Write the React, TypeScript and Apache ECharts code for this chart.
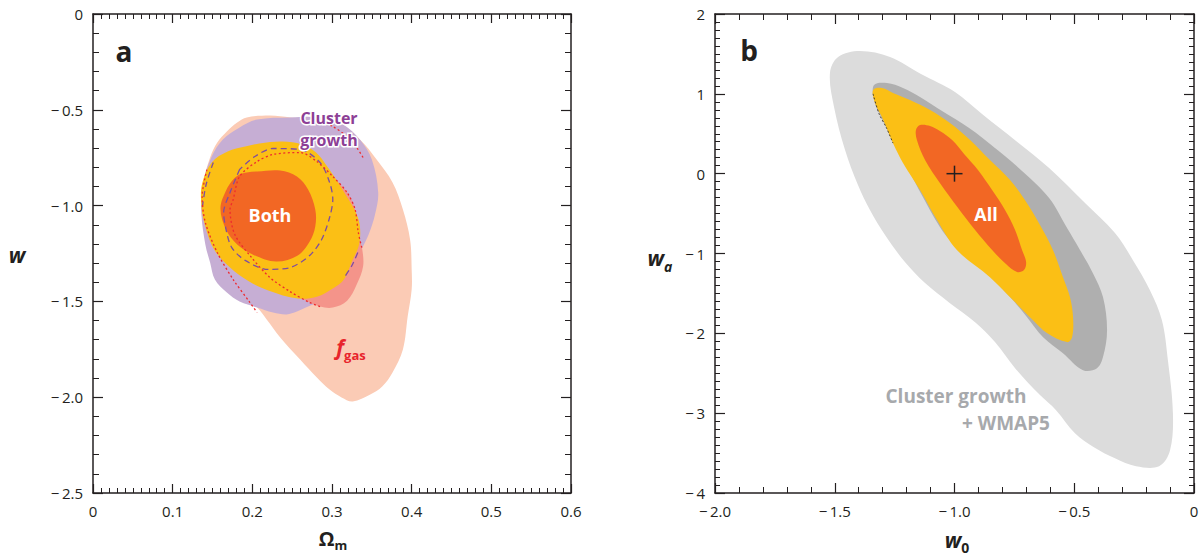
import { useEffect, useRef } from "react";
import * as echarts from "echarts";

const FONT = "'Open Sans', 'Noto Sans', sans-serif";
const INK = "#231F20";

// ---------- Panel a : Ωm (x) vs w (y) ----------
const fgasOuter: number[][] = [
  [0.193, -0.540], [0.222, -0.530], [0.248, -0.540], [0.289, -0.556], [0.314, -0.592],
  [0.335, -0.655], [0.356, -0.759], [0.376, -0.879], [0.389, -1.020], [0.398, -1.177],
  [0.400, -1.333], [0.400, -1.438], [0.395, -1.579], [0.389, -1.751], [0.376, -1.871],
  [0.363, -1.944], [0.348, -1.986], [0.326, -2.022], [0.312, -2.001], [0.297, -1.960],
  [0.281, -1.897], [0.260, -1.803], [0.235, -1.688], [0.218, -1.594], [0.206, -1.532],
  [0.184, -1.464], [0.162, -1.386], [0.147, -1.255], [0.137, -1.072], [0.138, -0.890],
  [0.147, -0.749], [0.156, -0.671], [0.168, -0.613], [0.181, -0.566],
];
const fgasInner: number[][] = [
  [0.226, -0.733], [0.260, -0.723], [0.281, -0.770], [0.301, -0.848], [0.319, -0.932],
  [0.329, -1.020], [0.333, -1.140], [0.338, -1.229], [0.339, -1.318], [0.331, -1.412],
  [0.319, -1.496], [0.301, -1.532], [0.285, -1.527], [0.272, -1.506], [0.247, -1.448],
  [0.222, -1.375], [0.199, -1.271], [0.178, -1.151], [0.172, -1.020], [0.176, -0.968],
  [0.184, -0.848], [0.206, -0.770],
];
const clusterOuter: number[][] = [
  [0.206, -0.551], [0.247, -0.540], [0.289, -0.540], [0.314, -0.577], [0.335, -0.655],
  [0.350, -0.759], [0.358, -0.932], [0.354, -1.047], [0.346, -1.151], [0.337, -1.229],
  [0.316, -1.414], [0.291, -1.490], [0.270, -1.527], [0.256, -1.553], [0.243, -1.568],
  [0.226, -1.558], [0.206, -1.532], [0.184, -1.501], [0.168, -1.454], [0.153, -1.386],
  [0.147, -1.297], [0.141, -1.203], [0.136, -1.036], [0.138, -0.885], [0.149, -0.744],
  [0.163, -0.655], [0.184, -0.592],
];
const bothOuter: number[][] = [
  [0.169, -0.718], [0.191, -0.692], [0.209, -0.676], [0.238, -0.666], [0.262, -0.681],
  [0.280, -0.723], [0.294, -0.796], [0.306, -0.869], [0.320, -0.963], [0.330, -1.036],
  [0.335, -1.109], [0.334, -1.203], [0.325, -1.292], [0.315, -1.386], [0.301, -1.433],
  [0.282, -1.474], [0.257, -1.485], [0.220, -1.443], [0.196, -1.396], [0.172, -1.323],
  [0.152, -1.229], [0.141, -1.109], [0.136, -0.999], [0.137, -0.885], [0.149, -0.775],
];
const bothInner: number[][] = [
  [0.193, -0.827], [0.206, -0.822], [0.235, -0.817], [0.256, -0.848], [0.270, -0.916],
  [0.279, -1.020], [0.279, -1.109], [0.272, -1.187], [0.257, -1.260], [0.230, -1.292],
  [0.201, -1.256], [0.181, -1.203], [0.167, -1.125], [0.160, -1.015], [0.167, -0.921],
  [0.176, -0.864], [0.184, -0.838],
];
const clusterInnerDashed: number[][] = [
  [0.184, -0.812], [0.172, -0.932], [0.164, -1.036], [0.167, -1.125], [0.174, -1.218],
  [0.191, -1.286], [0.220, -1.333], [0.248, -1.323], [0.272, -1.260], [0.287, -1.177],
  [0.297, -1.062], [0.301, -0.968], [0.297, -0.879], [0.285, -0.775], [0.260, -0.707],
  [0.226, -0.702], [0.203, -0.744], [0.184, -0.812],
];
const clusterLeftDashed: number[][] = [[0.151, -0.775], [0.142, -0.890], [0.137, -1.015]];
const clusterRightDashed: number[][] = [[0.317, -1.365], [0.325, -1.313], [0.334, -1.229]];
const fgasTopDotted: number[][] = [
  [0.282, -0.551], [0.301, -0.587], [0.319, -0.640], [0.331, -0.697], [0.339, -0.749],
];
const fgasLeftDotted: number[][] = [
  [0.143, -0.812], [0.137, -0.953], [0.141, -1.088], [0.156, -1.245], [0.176, -1.386],
  [0.197, -1.506], [0.206, -1.558],
];

// ---------- Panel b : w0 (x) vs wa (y) ----------
const growthOuter: number[][] = [
  [-1.520, 1.261], [-1.503, 0.835], [-1.457, 0.296], [-1.403, -0.143], [-1.353, -0.456],
  [-1.290, -0.769], [-1.207, -1.108], [-1.123, -1.371], [-1.019, -1.622], [-0.914, -1.860],
  [-0.831, -2.110], [-0.747, -2.436], [-0.643, -2.774], [-0.576, -2.962], [-0.497, -3.251],
  [-0.418, -3.426], [-0.330, -3.564], [-0.242, -3.664], [-0.146, -3.664], [-0.100, -3.464],
  [-0.088, -3.000], [-0.109, -2.336], [-0.134, -1.835], [-0.184, -1.459], [-0.255, -1.083],
  [-0.330, -0.744], [-0.455, -0.368], [-0.605, 0.070], [-0.743, 0.409], [-0.885, 0.747],
  [-0.998, 1.023], [-1.140, 1.248], [-1.269, 1.461], [-1.395, 1.536], [-1.486, 1.461],
];
const growthInner: number[][] = [
  [-1.336, 1.110], [-1.282, 1.135], [-1.215, 1.073], [-1.144, 0.960], [-1.052, 0.784],
  [-0.939, 0.571], [-0.831, 0.321], [-0.718, 0.033], [-0.605, -0.306], [-0.530, -0.682],
  [-0.476, -0.957], [-0.422, -1.246], [-0.380, -1.546], [-0.363, -1.960], [-0.380, -2.298],
  [-0.405, -2.436], [-0.463, -2.461], [-0.547, -2.248], [-0.630, -2.048], [-0.697, -1.797],
  [-0.768, -1.546], [-0.864, -1.246], [-0.965, -0.957], [-1.019, -0.832], [-1.061, -0.669],
  [-1.132, -0.293], [-1.198, 0.083], [-1.257, 0.421], [-1.311, 0.734], [-1.336, 0.922],
];
const allOuter: number[][] = [
  [-1.340, 1.048], [-1.303, 1.073], [-1.257, 1.010], [-1.186, 0.922], [-1.102, 0.797],
  [-1.019, 0.634], [-0.935, 0.421], [-0.852, 0.170], [-0.768, -0.080], [-0.706, -0.331],
  [-0.643, -0.644], [-0.589, -0.957], [-0.547, -1.296], [-0.518, -1.546], [-0.505, -1.797],
  [-0.509, -2.048], [-0.530, -2.110], [-0.614, -1.997], [-0.672, -1.835], [-0.756, -1.584],
  [-0.852, -1.296], [-0.990, -0.957], [-1.073, -0.581], [-1.144, -0.206], [-1.215, 0.133],
  [-1.257, 0.383], [-1.303, 0.709], [-1.332, 0.885],
];
const allInner: number[][] = [
  [-1.144, 0.609], [-1.102, 0.597], [-1.061, 0.534], [-1.010, 0.421], [-0.960, 0.246],
  [-0.902, 0.045], [-0.843, -0.206], [-0.789, -0.456], [-0.747, -0.707], [-0.718, -0.957],
  [-0.701, -1.108], [-0.710, -1.208], [-0.739, -1.233], [-0.785, -1.133], [-0.843, -0.957],
  [-0.914, -0.707], [-0.985, -0.431], [-1.061, -0.118], [-1.123, 0.170], [-1.157, 0.421],
  [-1.161, 0.546],
];
const edgeDotted: number[][] = [[-1.340, 1.000], [-1.315, 0.750], [-1.285, 0.580], [-1.257, 0.383]];
const fiducial: number[][] = [[-1, 0]];

// tick label formatters (minus sign followed by a thin space, as in the figure)
const MINUS = "\u2212\u2009";
const fmtPos = (v: number) => (Math.abs(v) < 1e-9 ? "0" : v.toFixed(1));
const fmtNeg1 = (v: number) => (Math.abs(v) < 1e-9 ? "0" : MINUS + Math.abs(v).toFixed(1));
const fmtInt = (v: number) => {
  const r = Math.round(v);
  return r === 0 ? "0" : r < 0 ? MINUS + Math.abs(r) : String(r);
};

function mkAxis(grid: number, position: string, min: number, max: number, interval: number,
  minorSplit: number, majorLen: number, minorLen: number, fmt: ((v: number) => string) | null) {
  return {
    type: "value", gridIndex: grid, position, min, max, interval,
    axisLine: { show: true, onZero: false, lineStyle: { color: INK, width: 1.5 } },
    axisTick: { show: true, inside: true, length: majorLen, lineStyle: { color: INK, width: 1.2 } },
    minorTick: { show: true, splitNumber: minorSplit, length: minorLen, lineStyle: { color: INK, width: 1 } },
    splitLine: { show: false }, minorSplitLine: { show: false },
    axisLabel: fmt
      ? { show: true, formatter: fmt, color: INK, fontSize: 15, fontFamily: FONT, margin: 10, showMinLabel: true, showMaxLabel: true }
      : { show: false },
  };
}

function polySeries(pts: number[][], color: string, axis: number, z: number) {
  return {
    type: "custom", coordinateSystem: "cartesian2d", xAxisIndex: axis, yAxisIndex: axis,
    data: pts, encode: { x: 0, y: 1 }, z, silent: true,
    renderItem: (params: any, api: any) =>
      params.dataIndex === 0
        ? { type: "polygon", shape: { points: pts.map((p) => api.coord(p)), smooth: 0.35 }, style: { fill: color } }
        : null,
  };
}

function lineSeries(pts: number[][], color: string, dash: number[], width: number, axis: number) {
  return {
    type: "line", xAxisIndex: axis, yAxisIndex: axis, data: pts, showSymbol: false, symbol: "none",
    smooth: 0.3, z: 10, silent: true,
    lineStyle: { color, width, type: dash },
  };
}

function txt(x: number, y: number, text: string, s: any) {
  return {
    type: "text", x, y, z: 100, silent: true,
    style: { text, fontFamily: FONT, fontSize: 15, fill: INK, align: "center", verticalAlign: "middle", ...s },
  };
}

// main symbol + lowered subscript in one text element
function subTxt(x: number, y: number, main: string, sub: string, mainSize: number, subSize: number,
  shift: number, color: string, mainItalic: boolean, subItalic: boolean) {
  return {
    type: "text", x, y, z: 100, silent: true,
    style: {
      text: "{m|" + main + "}{s|" + sub + "}",
      align: "center", verticalAlign: "middle",
      rich: {
        m: { fontFamily: FONT, fontSize: mainSize, fontWeight: "bold", fontStyle: mainItalic ? "italic" : "normal", fill: color, color, lineHeight: mainSize + 2 },
        s: { fontFamily: FONT, fontSize: subSize, fontWeight: "bold", fontStyle: subItalic ? "italic" : "normal", fill: color, color, padding: [shift * 2, 0, 0, 0], lineHeight: subSize + 2 },
      },
    },
  };
}

export default function App() {
  const ref = useRef<HTMLDivElement>(null);
  useEffect(() => {
    if (!ref.current) return;
    const chart = echarts.init(ref.current, undefined, { renderer: "svg" });
    const fgasDotted = fgasInner.slice(12).concat(fgasInner.slice(0, 8));
    const clusterLabel = { fontSize: 16, fontWeight: "bold", fill: "#8D3F96", stroke: "#fff", lineWidth: 3 };
    const option: any = {
      animation: false,
      textStyle: { fontFamily: FONT },
      grid: [
        { left: 93, top: 14, width: 478, height: 479, outerBoundsMode: "none" },
        { left: 715, top: 14, width: 479, height: 479, outerBoundsMode: "none" },
      ],
      xAxis: [
        mkAxis(0, "bottom", 0, 0.6, 0.1, 10, 9, 5, fmtPos),
        mkAxis(0, "top", 0, 0.6, 0.1, 10, 9, 5, null),
        mkAxis(1, "bottom", -2, 0, 0.5, 5, 10, 6, fmtNeg1),
        mkAxis(1, "top", -2, 0, 0.5, 5, 10, 6, null),
      ],
      yAxis: [
        mkAxis(0, "left", -2.5, 0, 0.5, 5, 10, 6, fmtNeg1),
        mkAxis(0, "right", -2.5, 0, 0.5, 5, 10, 6, null),
        mkAxis(1, "left", -4, 2, 1, 10, 10, 5, fmtInt),
        mkAxis(1, "right", -4, 2, 1, 10, 10, 5, null),
      ],
      series: [
        polySeries(fgasOuter, "#FBCBB5", 0, 1),
        polySeries(clusterOuter, "#C6AED4", 0, 2),
        polySeries(fgasInner, "#F4948A", 0, 3),
        polySeries(bothOuter, "#FBBF15", 0, 4),
        polySeries(bothInner, "#F26724", 0, 5),
        lineSeries(clusterInnerDashed, "#7E4E9F", [6, 4], 1.3, 0),
        lineSeries(clusterLeftDashed, "#7E4E9F", [6, 4], 1.3, 0),
        lineSeries(clusterRightDashed, "#7E4E9F", [6, 4], 1.3, 0),
        lineSeries(fgasDotted, "#EE2A2E", [2, 2.5], 1.3, 0),
        lineSeries(fgasTopDotted, "#EE2A2E", [2, 2.5], 1.3, 0),
        lineSeries(fgasLeftDotted, "#EE2A2E", [2, 2.5], 1.3, 0),

        polySeries(growthOuter, "#DCDCDC", 2, 1),
        polySeries(growthInner, "#AFAFAF", 2, 2),
        polySeries(allOuter, "#FBBF15", 2, 3),
        polySeries(allInner, "#F26724", 2, 4),
        lineSeries(edgeDotted, "#4A4030", [2, 2], 1, 2),
        {
          type: "custom", coordinateSystem: "cartesian2d", xAxisIndex: 2, yAxisIndex: 2,
          data: fiducial, encode: { x: 0, y: 1 }, z: 12, silent: true,
          renderItem: (_p: any, api: any) => {
            const c = api.coord([api.value(0), api.value(1)]);
            return {
              type: "group",
              children: [
                { type: "line", shape: { x1: c[0] - 8, y1: c[1], x2: c[0] + 8, y2: c[1] }, style: { stroke: INK, lineWidth: 1.5 } },
                { type: "line", shape: { x1: c[0], y1: c[1] - 8, x2: c[0], y2: c[1] + 8 }, style: { stroke: INK, lineWidth: 1.5 } },
              ],
            };
          },
        },
      ],
      graphic: [
        txt(124, 51, "a", { fontSize: 28, fontWeight: "bold" }),
        txt(749, 50, "b", { fontSize: 28, fontWeight: "bold" }),
        txt(329, 118, "Cluster", clusterLabel),
        txt(329, 140, "growth", clusterLabel),
        txt(270, 215, "Both", { fontSize: 18, fontWeight: "bold", fill: "#fff" }),
        subTxt(351, 347, "f", "gas", 21, 13, 8, "#E8242C", true, false),
        txt(986, 214, "All", { fontSize: 18, fontWeight: "bold", fill: "#fff" }),
        txt(956, 396, "Cluster growth", { fontSize: 19, fontWeight: "bold", fill: "#A7A9AC" }),
        txt(1006, 423, "+ WMAP5", { fontSize: 19, fontWeight: "bold", fill: "#A7A9AC" }),
        // axis names
        txt(17, 255, "w", { fontSize: 21, fontWeight: "bold", fontStyle: "italic" }),
        subTxt(333, 538, "\u03A9", "m", 20, 13, 7, INK, false, false),
        subTxt(660, 258, "w", "a", 21, 14, 8, INK, true, true),
        subTxt(957, 540, "w", "0", 21, 14, 7, INK, true, false),
      ],
    };
    chart.setOption(option);
    return () => chart.dispose();
  }, []);
  return <div ref={ref} style={{ position: "absolute", left: 0, top: 0, width: 1199, height: 556 }} />;
}
